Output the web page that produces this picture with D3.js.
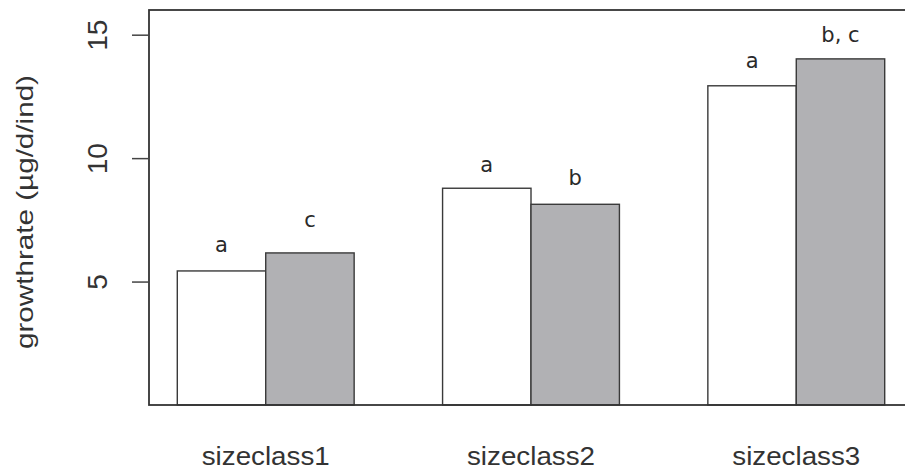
<!DOCTYPE html>
<html>
<head>
<meta charset="utf-8">
<script src="https://cdn.jsdelivr.net/npm/d3@7"></script>
<style>
  html, body { margin: 0; padding: 0; background: #fff; }
  svg { display: block; }
</style>
</head>
<body>
<svg id="chart" width="905" height="472"></svg>
<script>
// ---- data ----
const categories = ["sizeclass1", "sizeclass2", "sizeclass3"];
const seriesWhite = [5.43, 8.78, 12.93];
const seriesGray  = [6.16, 8.13, 14.02];
const lettersWhite = ["a", "a", "a"];
const lettersGray  = ["c", "b", "b, c"];
// annotation anchor heights (data units)
const letterValWhite = [6.20, 9.44, 13.65];
const letterValGray  = [7.21, 8.91, 14.70];
const yTicks = [5, 10, 15];
const yLabel = "growthrate (\u00b5g/d/ind)";

// ---- layout ----
const svg = d3.select("#chart");
const mLeft = 149, mTop = 10, mBottom = 405, mRight = 913;

// bar-unit scale (R barplot style: width 1, space between groups 1)
const x = d3.scaleLinear().domain([0.68, 9.32]).range([mLeft, mRight]);
const y = d3.scaleLinear().domain([0, 16]).range([mBottom, mTop]);

const series = [
  { vals: seriesWhite, fill: "#ffffff", letters: lettersWhite, lv: letterValWhite },
  { vals: seriesGray,  fill: "#b1b1b4", letters: lettersGray,  lv: letterValGray }
];

const bars = [];
categories.forEach((c, i) => {
  series.forEach((s, j) => {
    const l = 1 + 3 * i + j;
    bars.push({ l, v: s.vals[i], fill: s.fill, letter: s.letters[i], lv: s.lv[i] });
  });
});

svg.append("g").selectAll("rect").data(bars).join("rect")
  .attr("x", d => x(d.l))
  .attr("y", d => y(d.v))
  .attr("width", d => x(d.l + 1) - x(d.l))
  .attr("height", d => y(0) - y(d.v))
  .attr("fill", d => d.fill)
  .attr("stroke", "#3a3a3a")
  .attr("stroke-width", 1.4);

// letters
svg.append("g").selectAll("text").data(bars).join("text")
  .attr("x", d => x(d.l + 0.5))
  .attr("y", d => y(d.lv))
  .attr("text-anchor", "middle")
  .attr("font-family", "DejaVu Sans")
  .attr("font-size", 21)
  .attr("fill", "#2a2a2a")
  .text(d => d.letter);

// box
svg.append("rect")
  .attr("x", mLeft).attr("y", mTop)
  .attr("width", mRight - mLeft).attr("height", mBottom - mTop)
  .attr("fill", "none")
  .attr("stroke", "#333")
  .attr("stroke-width", 1.8);

// y axis ticks
const yAxis = d3.axisLeft(y).tickValues(yTicks).tickSize(17).tickSizeOuter(0).tickFormat(d3.format("d"));
const gy = svg.append("g").attr("transform", `translate(${mLeft},0)`).call(yAxis);
gy.select(".domain").remove();
gy.selectAll(".tick line").attr("stroke", "#444").attr("stroke-width", 1.5);
gy.selectAll(".tick text")
  .attr("font-family", "Liberation Sans, Arial, sans-serif")
  .attr("font-size", 28)
  .attr("fill", "#333")
  .attr("text-anchor", "middle")
  .attr("x", null)
  .attr("y", 0)
  .attr("dy", "0")
  .attr("transform", "translate(-42,0) rotate(-90)");

// x category labels
svg.append("g").selectAll("text").data(categories).join("text")
  .attr("x", (d, i) => x(2 + 3 * i))
  .attr("y", 465)
  .attr("text-anchor", "middle")
  .attr("font-family", "Liberation Sans, Arial, sans-serif")
  .attr("font-size", 26)
  .attr("textLength", 128)
  .attr("lengthAdjust", "spacingAndGlyphs")
  .attr("fill", "#333")
  .text(d => d);

// y label
svg.append("text")
  .attr("transform", "translate(33,212) rotate(-90)")
  .attr("text-anchor", "middle")
  .attr("font-family", "Liberation Sans, Arial, sans-serif")
  .attr("font-size", 24)
  .attr("textLength", 274)
  .attr("lengthAdjust", "spacingAndGlyphs")
  .attr("fill", "#333")
  .text(yLabel);
</script>
</body>
</html>
